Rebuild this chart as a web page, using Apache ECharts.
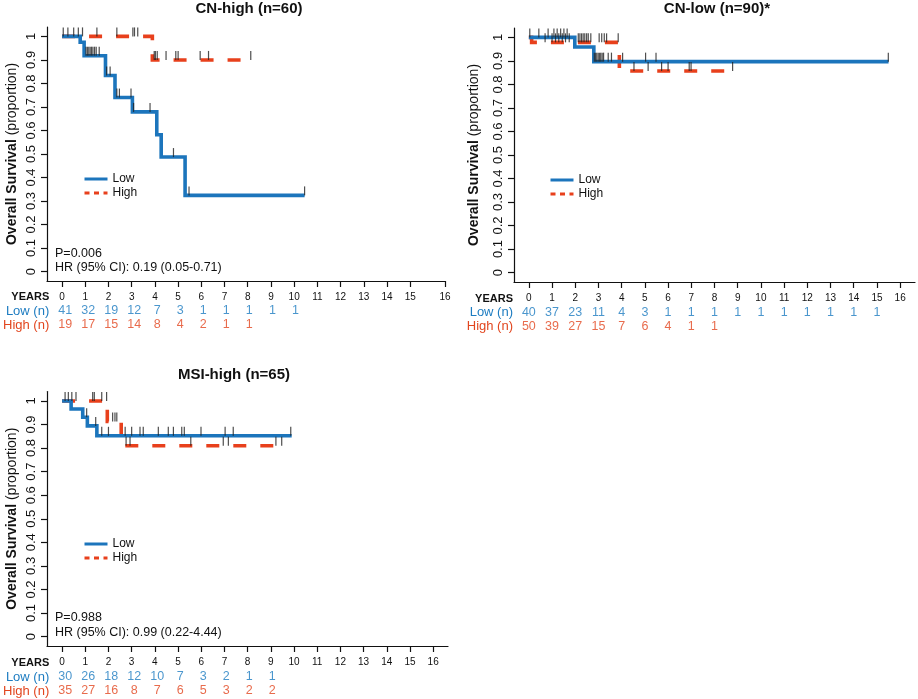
<!DOCTYPE html>
<html><head><meta charset="utf-8">
<script src="https://cdn.jsdelivr.net/npm/echarts@6/dist/echarts.min.js"></script>
<style>html,body{margin:0;padding:0;background:#fff}#c{width:918px;height:699px}</style>
</head><body><div id="c"></div>
<script>
// ---------- data ----------
const yearTicks = [0,1,2,3,4,5,6,7,8,9,10,11,12,13,14,15,16];
const survTicks = [0,0.1,0.2,0.3,0.4,0.5,0.6,0.7,0.8,0.9,1];
const rowLabels = ['YEARS','Low (n)','High (n)'];
const panelTitles = ['CN-high (n=60)','CN-low (n=90)*','MSI-high (n=65)'];

// CN-high
const cnHighLowT = [0, 0.78, 0.95, 1.87, 2.28, 3.03, 4.08, 4.27, 5.30, 10.45];
const cnHighLowS = [1, 0.975, 0.918, 0.834, 0.740, 0.679, 0.582, 0.487, 0.324, 0.324];
const cnHighHighT = [0, 3.89, 8.13];
const cnHighHighS = [1, 0.90, 0.90];
const cnHighLowCens = [0.25, 0.50, 1.03, 1.09, 1.15, 1.21, 1.27, 1.33, 1.40, 1.47, 1.60, 1.92, 2.07, 2.36, 2.47, 2.97, 3.08, 3.79, 4.80, 5.47, 10.45];
const cnHighHighCens = [0.05, 0.70, 0.88, 1.50, 2.36, 3.05, 3.12, 3.26, 3.97, 4.02, 4.10, 4.48, 4.90, 5.00, 5.95, 6.31, 8.13];
const cnHighLowRisk = [41,32,19,12,7,3,1,1,1,1,1];
const cnHighHighRisk = [19,17,15,14,8,4,2,1,1];

// CN-low
const cnLowLowT = [0, 1.98, 2.80, 15.50];
const cnLowLowS = [1, 0.959, 0.897, 0.897];
const cnLowHighT = [0, 0.12, 3.90, 8.78];
const cnLowHighS = [1, 0.979, 0.857, 0.857];
const cnLowLowCens = [0.04, 0.43, 0.83, 1.08, 1.22, 1.37, 1.51, 1.65, 2.82, 2.88, 2.93, 2.99, 3.05, 3.10, 3.16, 3.22, 3.42, 3.56, 4.04, 5.03, 5.48, 15.49];
const cnLowHighCens = [0.70, 1.00, 1.15, 1.29, 1.44, 1.58, 1.74, 2.13, 2.20, 2.27, 2.34, 2.41, 2.49, 2.56, 2.67, 3.03, 3.14, 3.25, 3.35, 3.85, 4.53, 5.14, 5.72, 6.00, 6.91, 6.99, 8.78];
const cnLowLowRisk = [40,37,23,11,4,3,1,1,1,1,1,1,1,1,1,1];
const cnLowHighRisk = [50,39,27,15,7,6,4,1,1];

// MSI-high
const msiLowT = [0, 0.39, 0.89, 1.09, 1.50, 9.90];
const msiLowS = [1, 0.966, 0.931, 0.894, 0.852, 0.852];
const msiHighT = [0, 1.95, 2.55, 9.40];
const msiHighS = [1, 0.913, 0.810, 0.810];
const msiLowCens = [0.13, 0.27, 1.06, 1.45, 1.71, 2.00, 2.72, 3.00, 3.36, 3.50, 4.15, 4.58, 4.80, 5.16, 5.27, 5.99, 7.03, 7.38, 9.86];
const msiHighCens = [0.42, 0.60, 1.32, 1.39, 1.71, 1.92, 2.18, 2.28, 2.36, 2.76, 2.93, 5.55, 6.95, 7.17, 9.22, 9.47];
const msiLowRisk = [30,26,18,12,10,7,3,2,1,1];
const msiHighRisk = [35,27,16,8,7,6,5,3,2,2];

const statsP = ['P=0.006', null, 'P=0.988'];
const statsHR = ['HR (95% CI): 0.19 (0.05-0.71)', null, 'HR (95% CI): 0.99 (0.22-4.44)'];

// ---------- styling / layout ----------
const FONT = '"Liberation Sans", Arial, Helvetica, sans-serif';
const BLUE = '#1c75bc';
const RED = '#e8401c';
const TBLUE = '#1d7cc1';
const TRED = '#e2461f';

const panels = [
  {lowT: cnHighLowT, lowS: cnHighLowS, highT: cnHighHighT, highS: cnHighHighS,
   lowC: cnHighLowCens, highC: cnHighHighCens, lowR: cnHighLowRisk, highR: cnHighHighRisk,
   grid: {left: 47, top: 27, width: 398, height: 254}, xMin: -0.65, xMax: 16.5, last: 16.5,
   table: {top: 290, height: 42}, nameGap: 28, legend: {left: 83, top: 173},
   title: [249, 9], stats: [55, 254, 268]},
  {lowT: cnLowLowT, lowS: cnLowLowS, highT: cnLowHighT, highS: cnLowHighS,
   lowC: cnLowLowCens, highC: cnLowHighCens, lowR: cnLowLowRisk, highR: cnLowHighRisk,
   grid: {left: 514, top: 28, width: 401, height: 254}, xMin: -0.64, xMax: 16.64, last: 16,
   table: {top: 291.5, height: 42}, nameGap: 33, legend: {left: 549, top: 174},
   title: [717, 9], stats: null},
  {lowT: msiLowT, lowS: msiLowS, highT: msiHighT, highS: msiHighS,
   lowC: msiLowCens, highC: msiHighCens, lowR: msiLowRisk, highR: msiHighRisk,
   grid: {left: 47, top: 391.5, width: 401, height: 254.5}, xMin: -0.65, xMax: 16.64, last: 16,
   table: {top: 656, height: 42}, nameGap: 28, legend: {left: 83, top: 538},
   title: [234, 375], stats: [55, 618, 633]}
];

function survAt(T, S, t) {
  let v = S[0];
  for (let i = 0; i < T.length; i++) if (T[i] <= t) v = S[i];
  return v;
}

const grids = [], xAxes = [], yAxes = [], series = [], legends = [], graphics = [];
const censorPath = 'path://M0,0L1,0L1,10L0,10Z';

panels.forEach((p, k) => {
  const gi = grids.length;
  grids.push(Object.assign({containLabel: false}, p.grid));
  grids.push({left: p.grid.left, width: p.grid.width, top: p.table.top, height: p.table.height});
  const xTickPos = yearTicks.map(v => v === 16 ? p.last : v);
  const axisLineStyle = {color: '#111', width: 1.2};
  xAxes.push({
    gridIndex: gi, type: 'value', min: p.xMin, max: p.xMax,
    axisLine: {show: true, onZero: false, lineStyle: axisLineStyle},
    axisTick: {show: true, length: 6, lineStyle: axisLineStyle, customValues: xTickPos},
    axisLabel: {customValues: xTickPos, margin: 11, fontSize: 10, color: '#111', fontFamily: FONT,
      formatter: v => (v === p.last ? '16' : String(Math.round(v)))},
    splitLine: {show: false}
  });
  xAxes.push({gridIndex: gi + 1, type: 'value', min: p.xMin, max: p.xMax, show: false});
  yAxes.push({
    gridIndex: gi, type: 'value', min: -0.04, max: 1.04,
    name: '{b|Overall Survival} (proportion)', nameLocation: 'middle', nameGap: p.nameGap,
    nameTextStyle: {fontSize: 14, color: '#111', fontFamily: FONT,
      rich: {b: {fontSize: 14, fontWeight: 'bold', color: '#111', fontFamily: FONT}}},
    axisLine: {show: true, onZero: false, lineStyle: axisLineStyle},
    axisTick: {show: true, length: 6, lineStyle: axisLineStyle, customValues: survTicks},
    axisLabel: {customValues: survTicks, rotate: 90, margin: 9, fontSize: 13, color: '#111', fontFamily: FONT,
      formatter: v => String(+(+v).toFixed(2))},
    splitLine: {show: false}
  });
  yAxes.push({
    gridIndex: gi + 1, type: 'category', data: rowLabels, inverse: true,
    axisLine: {show: false}, axisTick: {show: false}, splitLine: {show: false},
    axisLabel: {margin: 1, interval: 0, hideOverlap: false, fontFamily: FONT,
      formatter: (v, i) => ['{y|', '{l|', '{h|'][i] + v + '}',
      rich: {
        y: {fontSize: 11, fontWeight: 'bold', color: '#111', fontFamily: FONT},
        l: {fontSize: 13, color: TBLUE, fontFamily: FONT},
        h: {fontSize: 13, color: TRED, fontFamily: FONT}
      }}
  });
  const xi = gi, yi = gi;
  series.push({
    name: 'Low', type: 'line', step: 'end', xAxisIndex: xi, yAxisIndex: yi,
    symbol: 'none', silent: true, z: 3, color: BLUE,
    lineStyle: {color: BLUE, width: 3.6, cap: 'butt', join: 'miter'},
    data: p.lowT.map((t, i) => [t, p.lowS[i]])
  });
  series.push({
    name: 'High', type: 'line', step: 'end', xAxisIndex: xi, yAxisIndex: yi,
    symbol: 'none', silent: true, z: 2, color: RED,
    lineStyle: {color: RED, width: 3.6, type: [13, 14], cap: 'butt', join: 'miter'},
    data: p.highT.map((t, i) => [t, p.highS[i]])
  });
  [[p.lowC, p.lowT, p.lowS, 'Low censor'], [p.highC, p.highT, p.highS, 'High censor']].forEach(([C, T, S, nm]) => {
    series.push({
      name: nm, type: 'scatter', xAxisIndex: xi, yAxisIndex: yi, silent: true, z: 5,
      symbol: censorPath, symbolSize: [1.2, 9], symbolOffset: [0, -4.5],
      itemStyle: {color: '#222'},
      data: C.map(t => [t, survAt(T, S, t)])
    });
  });
  [[p.lowR, 'Low (n)', TBLUE], [p.highR, 'High (n)', TRED]].forEach(([R, row, col]) => {
    series.push({
      name: row + ' table', type: 'scatter', xAxisIndex: xi + 1, yAxisIndex: yi + 1, silent: true,
      symbolSize: 1, itemStyle: {color: 'rgba(0,0,0,0)'},
      label: {show: true, position: 'inside', fontSize: 12.5, color: col, fontFamily: FONT,
        formatter: q => String(q.data[2])},
      data: R.map((n, i) => [yearTicks[i], row, n])
    });
  });
  legends.push({
    left: p.legend.left, top: p.legend.top, orient: 'vertical', padding: 0,
    itemWidth: 23, itemHeight: 12, itemGap: 2, selectedMode: false,
    textStyle: {fontSize: 12, color: '#111', fontFamily: FONT},
    data: [
      {name: 'Low', itemStyle: {opacity: 0}, lineStyle: {width: 3, color: BLUE}},
      {name: 'High', itemStyle: {opacity: 0}, lineStyle: {width: 3, color: RED, type: [5, 4.5]}}
    ]
  });
  graphics.push({type: 'text', x: p.title[0], y: p.title[1], silent: true,
    style: {text: panelTitles[k], fontSize: 15, fontWeight: 'bold', fontFamily: FONT, fill: '#111',
      align: 'center', verticalAlign: 'middle'}});
  if (p.stats) {
    graphics.push({type: 'text', x: p.stats[0], y: p.stats[1], silent: true,
      style: {text: statsP[k], fontSize: 12.5, fontFamily: FONT, fill: '#111', align: 'left', verticalAlign: 'middle'}});
    graphics.push({type: 'text', x: p.stats[0], y: p.stats[2], silent: true,
      style: {text: statsHR[k], fontSize: 12.5, fontFamily: FONT, fill: '#111', align: 'left', verticalAlign: 'middle'}});
  }
});

const chart = echarts.init(document.getElementById('c'), null, {renderer: 'canvas'});
chart.setOption({
  animation: false,
  backgroundColor: '#fff',
  textStyle: {fontFamily: FONT},
  grid: grids, xAxis: xAxes, yAxis: yAxes, legend: legends,
  series: series, graphic: graphics
});
</script></body></html>
